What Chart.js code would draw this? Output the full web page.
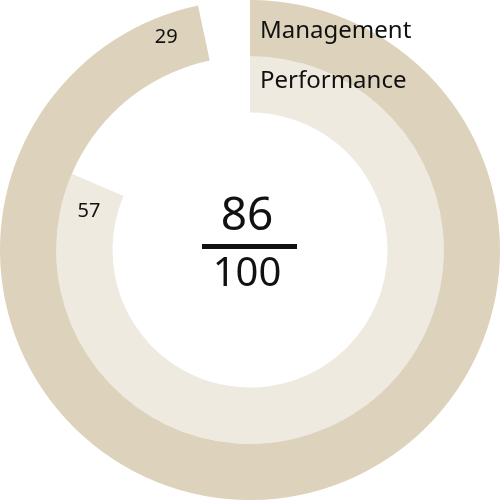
<!DOCTYPE html>
<html>
<head>
<meta charset="utf-8">
<script src="https://cdn.jsdelivr.net/npm/chart.js@4"></script>
<style>
  html, body { margin: 0; padding: 0; background: #fff; }
  #wrap { width: 500px; height: 500px; }
</style>
</head>
<body>
<div id="wrap"><canvas id="ringChart"></canvas></div>
<script>
// data
var seriesNames = ['Management', 'Performance']
var seriesValues = [29, 57]
var seriesMax = [30, 70]
var totalScore = 86
var totalMax = 100
var ringColors = ['#ddd2bb', '#eeeadf']

var FONT = "'Noto Sans', sans-serif"

// each ring = value + transparent remainder up to its max
var datasets = seriesNames.map(function (name, i) {
  return {
    label: name,
    data: [seriesValues[i], seriesMax[i] - seriesValues[i]],
    backgroundColor: [ringColors[i], 'rgba(0,0,0,0)'],
    borderWidth: 0,
    hoverOffset: 0
  }
})

// value labels near the end of each arc, legend text and the center score
var overlayPlugin = {
  id: 'overlay',
  afterDatasetsDraw: function (chart) {
    var ctx = chart.ctx
    ctx.save()
    ctx.fillStyle = '#111'
    ctx.textBaseline = 'middle'
    ctx.textAlign = 'center'

    chart.data.datasets.forEach(function (ds, i) {
      var arc = chart.getDatasetMeta(i).data[0]
      // outer label sits a bit further out in its ring
      var f = i === 0 ? 0.62 : 0.5
      var r = arc.innerRadius + (arc.outerRadius - arc.innerRadius) * f
      var ang = arc.endAngle - 9.5 * Math.PI / 180
      ctx.font = '20px ' + FONT
      ctx.fillText(String(seriesValues[i]), arc.x + Math.cos(ang) * r, arc.y + Math.sin(ang) * r)
    })

    // legend names at top, to the right of the start line
    var first = chart.getDatasetMeta(0).data[0]
    ctx.textAlign = 'left'
    ctx.font = '24px ' + FONT
    chart.data.datasets.forEach(function (ds, i) {
      ctx.fillText(ds.label, first.x + 10, 31 + i * 50)
    })

    // center fraction
    var cx = first.x, cy = first.y
    ctx.textAlign = 'center'
    ctx.font = '46px ' + FONT
    ctx.fillText(String(totalScore), cx - 3, cy - 33)
    ctx.fillRect(cx - 48, cy - 6, 95, 5)
    ctx.font = '40px ' + FONT
    ctx.fillText(String(totalMax), cx - 3, cy + 25)
    ctx.restore()
  }
}

var ctx = document.getElementById('ringChart').getContext('2d')
var ringChart = new Chart(ctx, {
  type: 'doughnut',
  data: { labels: ['value', 'rest'], datasets: datasets },
  options: {
    responsive: true,
    maintainAspectRatio: false,
    animation: false,
    cutout: '55%',
    layout: { padding: 0 },
    plugins: {
      legend: { display: false },
      tooltip: { enabled: false }
    }
  },
  plugins: [overlayPlugin]
})
</script>
</body>
</html>
